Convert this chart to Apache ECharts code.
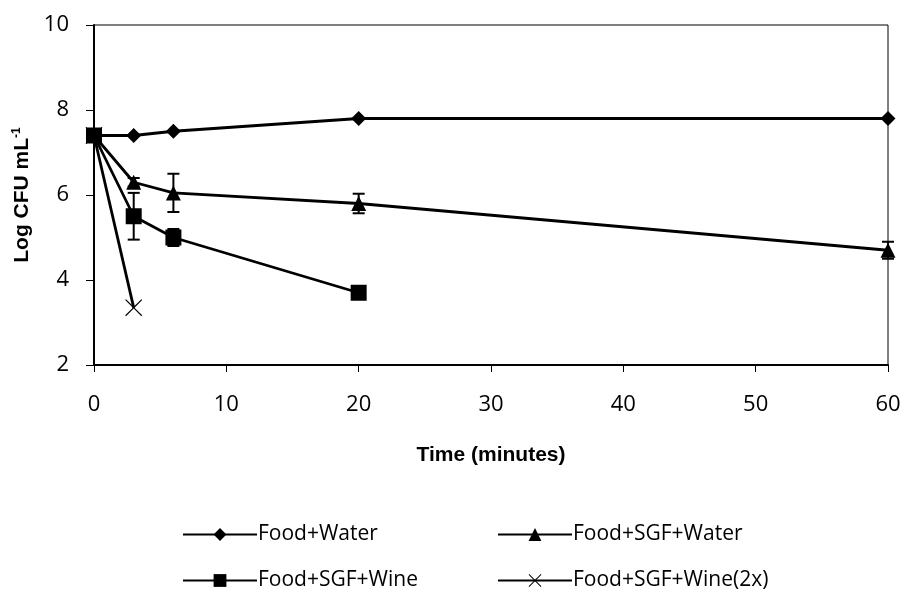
<!DOCTYPE html>
<html>
<head>
<meta charset="utf-8">
<script src="https://cdn.jsdelivr.net/npm/echarts@6/dist/echarts.min.js"></script>
<style>
  html, body { margin: 0; padding: 0; background: #fff; }
  #chart { width: 904px; height: 592px; }
</style>
</head>
<body>
<div id="chart"></div>
<script>
// Sampling times (minutes)
const times = [0, 3, 6, 20, 60];
const wineTimes = [0, 3, 6, 20];
const wine2xTimes = [0, 3];

// Log CFU mL-1 by treatment
const foodWater = [7.4, 7.4, 7.5, 7.8, 7.8];
const sgfWater = [7.4, 6.3, 6.05, 5.8, 4.7];
const sgfWine = [7.4, 5.5, 5.0, 3.7];
const sgfWine2x = [7.4, 3.35];

// Standard deviations (error bars)
const sgfWaterErr = [0, 0.1, 0.45, 0.23, 0.2];
const sgfWineErr = [0, 0.55, 0.2, 0];

// Axis ticks
const yTicks = [2, 4, 6, 8, 10];
const xTicks = [0, 10, 20, 30, 40, 50, 60];

const seriesNames = ['Food+Water', 'Food+SGF+Water', 'Food+SGF+Wine', 'Food+SGF+Wine(2x)'];

const FONT = '"Open Sans", "Noto Sans", sans-serif';
const BOLD_FONT = '"Liberation Sans Narrow", "Liberation Sans", sans-serif';

const crossPath = 'path://M0,1L1,0L10,9L19,0L20,1L11,10L20,19L19,20L10,11L1,20L0,19L9,10Z';

function pairs(xs, ys) { return xs.map((x, i) => [x, ys[i]]); }
function errTriples(xs, ys, es) {
  return xs.map((x, i) => [x, ys[i], es[i]]).filter(d => d[2] > 0);
}

const lineStyle = { color: '#000', width: 2.8 };

function lineSeries(name, data, symbol, size) {
  return {
    name: name,
    type: 'line',
    data: data,
    symbol: symbol,
    symbolSize: size,
    showAllSymbol: true,
    itemStyle: { color: '#000', borderWidth: 0 },
    lineStyle: lineStyle,
    emphasis: { disabled: true },
    animation: false,
    z: 3
  };
}

function errorSeries(data) {
  return {
    type: 'custom',
    data: data,
    animation: false,
    z: 4,
    renderItem: function (params, api) {
      const x = api.value(0), y = api.value(1), e = api.value(2);
      const hi = api.coord([x, y + e]);
      const lo = api.coord([x, y - e]);
      const cap = 6;
      const style = { stroke: '#000', lineWidth: 2 };
      return {
        type: 'group',
        children: [
          { type: 'line', shape: { x1: hi[0], y1: hi[1], x2: lo[0], y2: lo[1] }, style: style },
          { type: 'line', shape: { x1: hi[0] - cap, y1: hi[1], x2: hi[0] + cap, y2: hi[1] }, style: style },
          { type: 'line', shape: { x1: lo[0] - cap, y1: lo[1], x2: lo[0] + cap, y2: lo[1] }, style: style }
        ]
      };
    }
  };
}

function legendAt(name, left, top) {
  return {
    data: [name],
    left: left,
    top: top,
    itemWidth: 74,
    itemHeight: 16,
    itemGap: 0,
    selectedMode: false,
    textStyle: { fontFamily: FONT, fontSize: 21, color: '#000', padding: [0, 0, 0, -4] }
  };
}

const chart = echarts.init(document.getElementById('chart'), null, { renderer: 'canvas' });

chart.setOption({
  backgroundColor: '#fff',
  animation: false,
  grid: {
    left: 94, right: 16, top: 25, bottom: 227,
    show: true, borderColor: '#000', borderWidth: 1, backgroundColor: 'transparent'
  },
  xAxis: {
    type: 'value',
    min: xTicks[0], max: xTicks[xTicks.length - 1], interval: 10,
    name: 'Time (minutes)',
    nameLocation: 'middle',
    nameGap: 80,
    nameTextStyle: { fontFamily: BOLD_FONT, fontWeight: 'bold', fontSize: 21, color: '#000' },
    axisLine: { lineStyle: { color: '#000', width: 2 } },
    axisTick: { show: true, inside: false, length: 7, lineStyle: { color: '#000', width: 1 } },
    axisLabel: { margin: 29, fontFamily: FONT, fontSize: 22, color: '#000' },
    splitLine: { show: false }
  },
  yAxis: {
    type: 'value',
    min: yTicks[0], max: yTicks[yTicks.length - 1], interval: 2,
    name: '{t|Log CFU mL}{s|-1}',
    nameLocation: 'middle',
    nameGap: 58,
    nameRotate: 90,
    nameTextStyle: {
      rich: {
        t: { fontFamily: BOLD_FONT, fontWeight: 'bold', fontSize: 21, color: '#000', lineHeight: 24 },
        s: { fontFamily: BOLD_FONT, fontWeight: 'bold', fontSize: 12, color: '#000', verticalAlign: 'top', lineHeight: 12 }
      }
    },
    axisLine: { show: true, lineStyle: { color: '#000', width: 2 } },
    axisTick: { show: true, inside: false, length: 8, lineStyle: { color: '#000', width: 1 } },
    axisLabel: { margin: 25, fontFamily: FONT, fontSize: 22, color: '#000' },
    splitLine: { show: false }
  },
  legend: [
    legendAt(seriesNames[0], 177, 519),
    legendAt(seriesNames[1], 492, 519),
    legendAt(seriesNames[2], 177, 565),
    legendAt(seriesNames[3], 492, 565)
  ],
  series: [
    lineSeries(seriesNames[0], pairs(times, foodWater), 'diamond', 15),
    lineSeries(seriesNames[1], pairs(times, sgfWater), 'triangle', 15),
    lineSeries(seriesNames[2], pairs(wineTimes, sgfWine), 'rect', 16),
    lineSeries(seriesNames[3], pairs(wine2xTimes, sgfWine2x), crossPath, 17),
    errorSeries(errTriples(times, sgfWater, sgfWaterErr)),
    errorSeries(errTriples(wineTimes, sgfWine, sgfWineErr))
  ]
});
</script>
</body>
</html>
